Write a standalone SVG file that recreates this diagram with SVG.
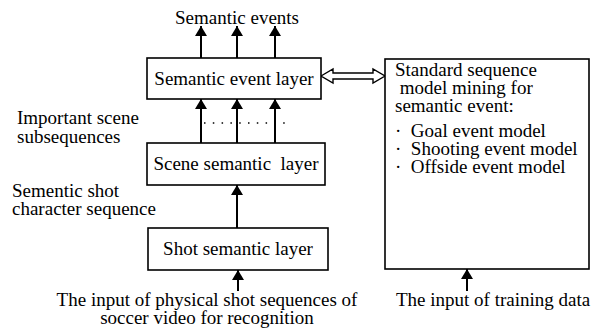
<svg xmlns="http://www.w3.org/2000/svg" width="596" height="329" viewBox="0 0 596 329">
  <defs>
    <marker id="ah" viewBox="0 0 10 12" refX="10" refY="6" markerWidth="10" markerHeight="12" markerUnits="userSpaceOnUse" orient="auto">
      <path d="M0,0 L10,6 L0,12 Z" fill="#000"/>
    </marker>
    <style>
      text { font-family: "Liberation Serif", "Times New Roman", serif; font-size: 19px; fill: #000; }
      .box { fill: #fff; stroke: #000; stroke-width: 1.6; }
      .arr { stroke: #000; stroke-width: 2; fill: none; marker-end: url(#ah); }
      .mid { text-anchor: middle; }
    </style>
  </defs>
  <rect width="596" height="329" fill="#fff"/>

  <!-- connectors -->
  <g id="connectors">
    <line class="arr" x1="201" y1="58" x2="201" y2="26"/>
    <line class="arr" x1="237" y1="58" x2="237" y2="26"/>
    <line class="arr" x1="275" y1="58" x2="275" y2="26"/>
    <line class="arr" x1="201" y1="143" x2="201" y2="99"/>
    <line class="arr" x1="237" y1="143" x2="237" y2="99"/>
    <line class="arr" x1="275" y1="143" x2="275" y2="99"/>
    <line x1="204" y1="123" x2="292" y2="123" stroke="#000" stroke-width="1.5" stroke-dasharray="1.5 7.3"/>
    <line class="arr" x1="237" y1="228" x2="237" y2="185"/>
    <line class="arr" x1="238" y1="291" x2="238" y2="270"/>
    <line class="arr" x1="467" y1="291" x2="467" y2="269"/>
    <polygon points="321,76 333,69 333,73 373,73 373,69 385,76 373,83 373,79 333,79 333,83" fill="#fff" stroke="#000" stroke-width="1.4" stroke-linejoin="miter"/>
  </g>

  <text class="mid" x="237" y="24">Semantic events</text>

  <g id="event-layer">
    <rect class="box" x="147" y="58" width="174" height="41"/>
    <text class="mid" x="234" y="85">Semantic event layer</text>
  </g>

  <g id="scene-layer">
    <rect class="box" x="147" y="143" width="178" height="42"/>
    <text class="mid" x="236" y="170" xml:space="preserve">Scene semantic  layer</text>
  </g>

  <g id="shot-layer">
    <rect class="box" x="148" y="228" width="180" height="42"/>
    <text class="mid" x="238" y="255">Shot semantic layer</text>
  </g>

  <g id="model-mining">
    <rect class="box" x="385" y="59" width="204" height="210"/>
    <text x="395" y="76">Standard sequence</text>
    <text x="395" y="94" xml:space="preserve"> model mining for</text>
    <text x="395" y="112">semantic event:</text>
    <text x="395" y="137" xml:space="preserve">·  Goal event model</text>
    <text x="395" y="155" xml:space="preserve">·  Shooting event model</text>
    <text x="395" y="173" xml:space="preserve">·  Offside event model</text>
  </g>

  <g id="labels">
    <text x="17" y="124">Important scene</text>
    <text x="17" y="143">subsequences</text>
    <text x="12" y="197">Sementic shot</text>
    <text x="12" y="215">character sequence</text>
    <text class="mid" x="207" y="306">The input of physical shot sequences of</text>
    <text class="mid" x="207" y="324">soccer video for recognition</text>
    <text x="396" y="306">The input of training data</text>
  </g>
</svg>
